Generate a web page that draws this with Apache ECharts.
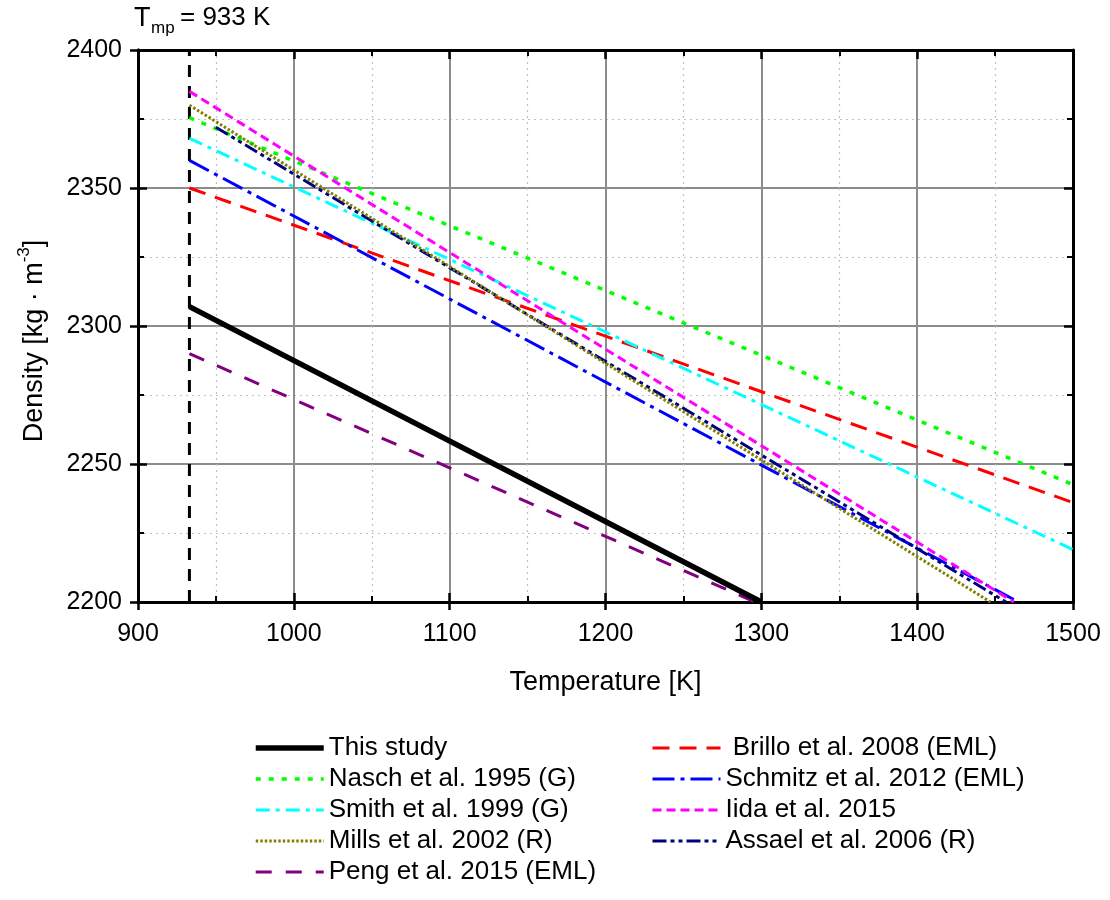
<!DOCTYPE html>
<html>
<head>
<meta charset="utf-8">
<script src="https://cdn.jsdelivr.net/npm/echarts@6/dist/echarts.min.js"></script>
<style>
  html, body { margin: 0; padding: 0; background: #fff; }
  #chart { width: 1110px; height: 900px; }
</style>
</head>
<body>
<div id="chart"></div>
<script>
// Liquid aluminium density vs. temperature: each correlation as [T, density] end points
const meltingPoint = 933;
const thisStudy = [[933, 2307], [1300, 2200]];
const nasch1995 = [[933, 2375.5], [1500, 2242.5]];
const smith1999 = [[933, 2368], [1500, 2219]];
const mills2002 = [[933, 2380], [1447, 2200]];
const peng2015 = [[933, 2290], [1296, 2200]];
const brillo2008 = [[933, 2350], [1500, 2236]];
const schmitz2012 = [[933, 2360], [1465, 2200]];
const iida2015 = [[933, 2385], [1462, 2200]];
const assael2006 = [[950, 2372], [1457, 2200]];

const xTicks = [900, 1000, 1100, 1200, 1300, 1400, 1500];
const yTicks = [2200, 2250, 2300, 2350, 2400];

const leftNames = ['This study', 'Nasch et al. 1995 (G)', 'Smith et al. 1999 (G)', 'Mills et al. 2002 (R)', 'Peng et al. 2015 (EML)'];
const rightNames = [' Brillo et al. 2008 (EML)', 'Schmitz et al. 2012 (EML)', 'Iida et al. 2015', 'Assael et al. 2006 (R)'];

const FONT = 'Liberation Sans, Arial, sans-serif';

function lineSeries(name, data, color, width, dash) {
  return {
    name: name, type: 'line', data: data, symbol: 'none',
    xAxisIndex: 0, yAxisIndex: 0,
    lineStyle: { color: color, width: width, type: dash, cap: 'butt' },
    itemStyle: { color: color },
    emphasis: { disabled: true },
    z: 5
  };
}

const xMin = xTicks[0], xMax = xTicks[xTicks.length - 1], xStep = xTicks[1] - xTicks[0];
const yMin = yTicks[0], yMax = yTicks[yTicks.length - 1], yStep = yTicks[1] - yTicks[0];

const axisLine = { show: true, onZero: false, lineStyle: { color: '#000', width: 3 } };
const labelStyle = { color: '#000', fontSize: 25, fontFamily: FONT, formatter: function (v) { return String(v); } };

function xAxis(position, opts) {
  return Object.assign({
    type: 'value', position: position, min: xMin, max: xMax, interval: xStep,
    axisLine: axisLine, axisLabel: { show: false }, splitLine: { show: false },
    axisTick: { show: false }, minorTick: { show: false }, minorSplitLine: { show: false }
  }, opts);
}
function yAxis(position, opts) {
  return Object.assign({
    type: 'value', position: position, min: yMin, max: yMax, interval: yStep,
    axisLine: axisLine, axisLabel: { show: false }, splitLine: { show: false },
    axisTick: { show: false }, minorTick: { show: false }, minorSplitLine: { show: false }
  }, opts);
}

const legendBase = {
  orient: 'vertical', top: 730, itemWidth: 68, itemHeight: 14, itemGap: 5,
  textStyle: { color: '#000', fontSize: 26, fontFamily: FONT },
  itemStyle: { opacity: 0 },
  lineStyle: { width: 'inherit', type: 'inherit' },
  selectedMode: false
};

const chart = echarts.init(document.getElementById('chart'), null, { renderer: 'canvas' });

chart.setOption({
  animation: false,
  backgroundColor: '#fff',
  grid: { left: 138, right: 37, top: 50, bottom: 298, containLabel: false },
  xAxis: [
    xAxis('bottom', {
      name: 'Temperature [K]', nameLocation: 'middle', nameGap: 67,
      nameTextStyle: { color: '#000', fontSize: 27, fontFamily: FONT },
      axisLabel: Object.assign({ show: true, margin: 20 }, labelStyle),
      axisTick: { show: true, inside: false, length: 8, lineStyle: { color: '#000', width: 2.5 } },
      splitLine: { show: true, lineStyle: { color: '#8c8c8c', width: 2 } },
      minorSplitLine: { show: true, lineStyle: { color: '#c0c0c0', width: 1.2, type: [2, 4] } },
      minorTick: { show: false, splitNumber: 2 }
    }),
    xAxis('bottom', {
      axisTick: { show: true, inside: true, length: 9, lineStyle: { color: '#000', width: 2.5 } },
      minorTick: { show: true, splitNumber: 2, length: 6, lineStyle: { color: '#000', width: 2 } }
    }),
    xAxis('top', {
      axisTick: { show: true, inside: true, length: 9, lineStyle: { color: '#000', width: 2.5 } },
      minorTick: { show: true, splitNumber: 2, length: 6, lineStyle: { color: '#000', width: 2 } }
    })
  ],
  yAxis: [
    yAxis('left', {
      name: '{a|Density [kg · m}{s|-3}{a|]}', nameLocation: 'middle', nameGap: 90,
      nameTextStyle: {
        color: '#000', fontSize: 27, fontFamily: FONT, padding: [0, 30, 0, 0],
        rich: {
          a: { fontSize: 27, fontFamily: FONT, color: '#000', lineHeight: 32, verticalAlign: 'bottom' },
          s: { fontSize: 17, fontFamily: FONT, color: '#000', lineHeight: 32, verticalAlign: 'top' }
        }
      },
      axisLabel: Object.assign({ show: true, margin: 16 }, labelStyle),
      axisTick: { show: true, inside: false, length: 8, lineStyle: { color: '#000', width: 2.5 } },
      splitLine: { show: true, lineStyle: { color: '#8c8c8c', width: 2 } },
      minorSplitLine: { show: true, lineStyle: { color: '#c0c0c0', width: 1.2, type: [2, 4] } },
      minorTick: { show: false, splitNumber: 2 }
    }),
    yAxis('left', {
      axisTick: { show: true, inside: true, length: 9, lineStyle: { color: '#000', width: 2.5 } },
      minorTick: { show: true, splitNumber: 2, length: 6, lineStyle: { color: '#000', width: 2 } }
    }),
    yAxis('right', {
      axisTick: { show: true, inside: true, length: 9, lineStyle: { color: '#000', width: 2.5 } },
      minorTick: { show: true, splitNumber: 2, length: 6, lineStyle: { color: '#000', width: 2 } }
    })
  ],
  legend: [
    Object.assign({ left: 248, data: leftNames }, legendBase),
    Object.assign({ left: 646, data: rightNames }, legendBase)
  ],
  graphic: [
    { type: 'text', left: 134, top: 5, style: { text: 'T', fontSize: 27, fontFamily: FONT, fill: '#000' } },
    { type: 'text', left: 151, top: 20, style: { text: 'mp', fontSize: 17, fontFamily: FONT, fill: '#000' } },
    { type: 'text', left: 180, top: 5, style: { text: '= ' + meltingPoint + ' K', fontSize: 26, fontFamily: FONT, fill: '#000' } }
  ],
  series: [
    {
      name: 'melting point', type: 'line', symbol: 'none', xAxisIndex: 0, yAxisIndex: 0,
      data: [[meltingPoint, yMin], [meltingPoint, yMax]],
      lineStyle: { color: '#000', width: 3, type: [12, 9] }, z: 4, emphasis: { disabled: true }
    },
    lineSeries(leftNames[1], nasch1995, '#00ff00', 3.5, [5, 8]),
    lineSeries(rightNames[0], brillo2008, '#ff0000', 3, [17, 10]),
    lineSeries(leftNames[2], smith1999, '#00ffff', 3, [14, 6, 4, 6]),
    lineSeries(rightNames[1], schmitz2012, '#0000ff', 3, [22, 6, 4, 6]),
    lineSeries(rightNames[2], iida2015, '#ff00ff', 3, [9, 5]),
    lineSeries(rightNames[3], assael2006, '#000080', 3, [14, 4, 4, 4, 4, 4]),
    lineSeries(leftNames[3], mills2002, '#808000', 3, [2.5, 2]),
    lineSeries(leftNames[4], peng2015, '#800080', 3, [16, 14]),
    lineSeries(leftNames[0], thisStudy, '#000000', 5.5, 'solid')
  ]
});
</script>
</body>
</html>
